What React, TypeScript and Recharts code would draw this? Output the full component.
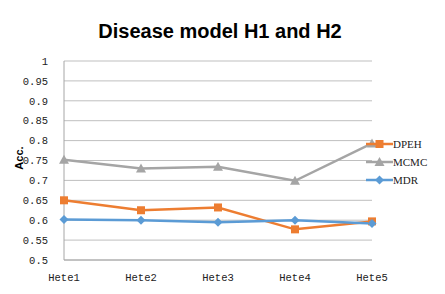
import { LineChart, Line, XAxis, YAxis, CartesianGrid } from "recharts";

const categories = ["Hete1", "Hete2", "Hete3", "Hete4", "Hete5"];
const dpeh = [0.65, 0.625, 0.632, 0.577, 0.597];
const mcmc = [0.752, 0.73, 0.734, 0.699, 0.793];
const mdr = [0.602, 0.6, 0.595, 0.6, 0.592];
const yTicks = [0.5, 0.55, 0.6, 0.65, 0.7, 0.75, 0.8, 0.85, 0.9, 0.95, 1];

const data = categories.map((name, i) => ({ name, DPEH: dpeh[i], MCMC: mcmc[i], MDR: mdr[i] }));

const ORANGE = "#ED7D31";
const GRAY = "#A5A5A5";
const BLUE = "#5B9BD5";
const TICK_FONT = "'Liberation Mono', monospace";

function Marker({ cx, cy, kind, color }: { cx: number; cy: number; kind: string; color: string }) {
  if (cx == null || cy == null) return null;
  if (kind === "square") return <rect x={cx - 4} y={cy - 4} width={8} height={8} fill={color} />;
  if (kind === "triangle")
    return <polygon points={`${cx},${cy - 5} ${cx + 5},${cy + 4} ${cx - 5},${cy + 4}`} fill={color} />;
  return <polygon points={`${cx},${cy - 4.5} ${cx + 4.5},${cy} ${cx},${cy + 4.5} ${cx - 4.5},${cy}`} fill={color} />;
}

const series = [
  { key: "DPEH", color: ORANGE, kind: "square" },
  { key: "MCMC", color: GRAY, kind: "triangle" },
  { key: "MDR", color: BLUE, kind: "diamond" },
];

function LegendBox() {
  return (
    <div
      style={{
        position: "absolute",
        left: 366,
        top: 135,
        fontFamily: "'Liberation Serif', serif",
        fontSize: 11,
        color: "#222",
      }}
    >
      {series.map((s) => (
        <div key={s.key} style={{ display: "flex", alignItems: "center", height: 18 }}>
          <svg width={27} height={12}>
            <line x1={0} y1={6} x2={27} y2={6} stroke={s.color} strokeWidth={2.5} />
            <Marker cx={13.5} cy={6} kind={s.kind} color={s.color} />
          </svg>
          <span>{s.key}</span>
        </div>
      ))}
    </div>
  );
}

export default function App() {
  return (
    <div style={{ position: "absolute", left: 0, top: 0, width: 445, height: 294, background: "#fff" }}>
      <div
        style={{
          position: "absolute",
          left: 0,
          width: 440,
          top: 20,
          textAlign: "center",
          fontFamily: "'Liberation Sans', sans-serif",
          fontWeight: "bold",
          fontSize: 20,
          color: "#000",
        }}
      >
        Disease model H1 and H2
      </div>
      <div
        style={{
          position: "absolute",
          left: 2,
          top: 152,
          width: 34,
          textAlign: "center",
          transform: "rotate(-90deg)",
          fontFamily: "'Liberation Sans', sans-serif",
          fontWeight: "bold",
          fontSize: 11,
        }}
      >
        Acc.
      </div>
      <LineChart
        width={445}
        height={294}
        data={data}
        margin={{ top: 61, right: 73, left: 0, bottom: 0 }}
        style={{ fontFamily: TICK_FONT }}
      >
        <CartesianGrid vertical={false} stroke="#BFBFBF" strokeWidth={1} />
        <XAxis
          dataKey="name"
          height={34}
          axisLine={{ stroke: "#A6A6A6" }}
          tickLine={false}
          tick={{ fontSize: 10.5, fill: "#222", fontFamily: TICK_FONT }}
          tickMargin={8}
        />
        <YAxis
          width={64}
          domain={[0.5, 1]}
          ticks={yTicks}
          interval={0}
          axisLine={{ stroke: "#A6A6A6" }}
          tickLine={false}
          tick={{ fontSize: 10.5, fill: "#222", fontFamily: TICK_FONT }}
          tickMargin={10}
        />
        {series.map((s) => (
          <Line
            key={s.key}
            type="linear"
            dataKey={s.key}
            stroke={s.color}
            strokeWidth={2.5}
            isAnimationActive={false}
            dot={(p: any) => <Marker key={`${s.key}-${p.index}`} cx={p.cx} cy={p.cy} kind={s.kind} color={s.color} />}
            activeDot={false}
          />
        ))}
      </LineChart>
      <LegendBox />
    </div>
  );
}
